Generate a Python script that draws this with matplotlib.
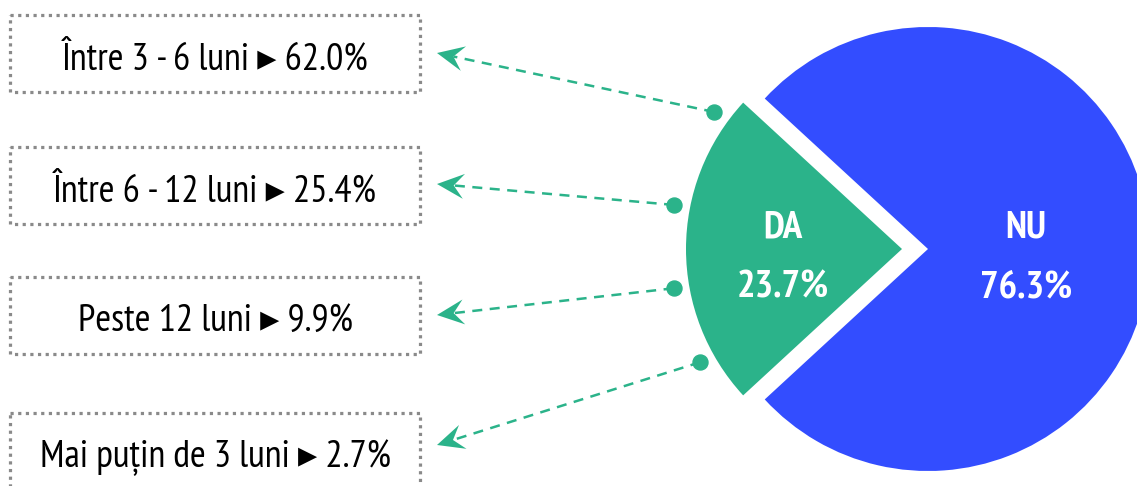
import numpy as np
import matplotlib.pyplot as plt
from matplotlib.patches import Rectangle, Polygon

plt.rcParams['font.family'] = ['PT Sans Narrow', 'Fira Sans Condensed', 'Roboto Condensed',
                               'Barlow Condensed', 'Asap Condensed', 'DejaVu Sans']

# data
answers = ['DA', 'NU']
answer_share = [23.7, 76.3]
answer_colors = ['#2bb38a', '#334dff']

durations = ['Între 3 - 6 luni', 'Între 6 - 12 luni', 'Peste 12 luni', 'Mai puțin de 3 luni']
duration_share = [62.0, 25.4, 9.9, 2.7]

# layout (pixels)
W, H = 1137, 486
cx, cy, R = 928, 249, 222
gap = 26
da_radius = 216
box_x, box_w, box_h = 10, 410, 77
box_tops = [15, 147, 277, 413]
arrow_tip_x = 437
arrow_tip_y = [53, 184, 315, 445]
dot_angles = [35.9, 10.7, -10.0, -29.5]
dot_dist = 232
green = answer_colors[0]

fig = plt.figure(figsize=(W / 100, H / 100), dpi=100)
ax = fig.add_axes([0, 0, 1, 1])

da_half = answer_share[0] / 100 * 360 / 2
wedges, _ = ax.pie(answer_share, colors=answer_colors, startangle=180 - da_half,
                   center=(cx, cy), radius=R, explode=[gap, 0], frame=True)
wedges[0].set_radius(da_radius)

da_cx = cx - gap
label_x = [da_cx - 0.55 * da_radius, cx + 0.44 * R]
for name, val, lx in zip(answers, answer_share, label_x):
    ax.text(lx, cy - 12, name, color='white', fontsize=28, fontweight='bold',
            ha='center', va='baseline')
    ax.text(lx, cy + 48, f'{val:.1f}%', color='white', fontsize=28, fontweight='bold',
            ha='center', va='baseline')

# boxes
for name, val, top in zip(durations, duration_share, box_tops):
    rect = Rectangle((box_x, top), box_w, box_h, fill=False, edgecolor='#8a8a8a',
                     linewidth=2.3, linestyle=(0, (1, 1.4)))
    ax.add_patch(rect)
    ax.text(box_x + box_w / 2, top + 54, f'{name} \u25B8 {val:.1f}%',
            fontsize=27.5, ha='center', va='baseline', color='black')

# connectors
for ang, ty in zip(dot_angles, arrow_tip_y):
    a = np.radians(ang)
    dx = da_cx - dot_dist * np.cos(a)
    dy = cy - 1 - dot_dist * np.sin(a)
    tip = np.array([arrow_tip_x, ty], dtype=float)
    start = np.array([dx, dy])
    u = (start - tip) / np.linalg.norm(start - tip)
    n = np.array([-u[1], u[0]])
    L, hw = 27, 12.5
    notch = tip + 0.62 * L * u
    head = [tip, tip + L * u + hw * n, notch, tip + L * u - hw * n]
    ax.add_patch(Polygon(head, closed=True, facecolor=green, edgecolor='none'))
    ax.plot([start[0], notch[0]], [start[1], notch[1]], color=green, linewidth=1.8,
            linestyle=(0, (4, 3)))
    ax.plot(start[0], start[1], 'o', color=green, markersize=10.8)

ax.set_xlim(0, W)
ax.set_ylim(H, 0)
ax.axis('off')
fig.savefig('out.png', dpi=100)
